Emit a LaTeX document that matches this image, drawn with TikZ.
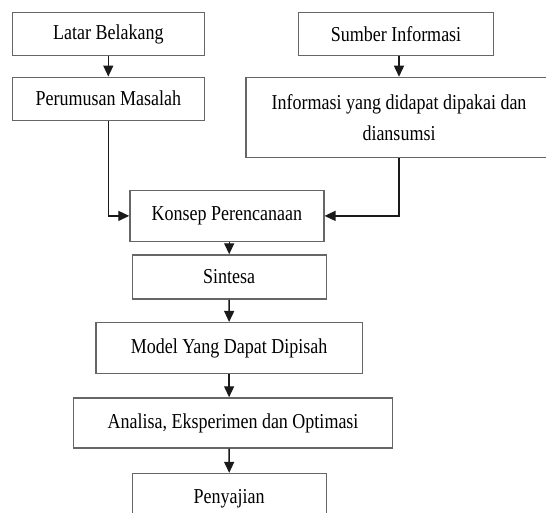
\documentclass[tikz,border=0pt]{standalone}
\usepackage{fontspec}
\setmainfont{Liberation Serif}
\usetikzlibrary{arrows.meta}
\definecolor{boxgray}{HTML}{666666}
\definecolor{linegray}{HTML}{1a1a1a}
\newcommand{\vstretch}[1]{\scalebox{1}[1.18]{#1}}
\begin{document}
\begin{tikzpicture}[x=1pt,y=-1pt,
  box/.style={draw=boxgray, line width=1.3pt, fill=white, inner sep=0pt, align=center,
    font=\fontsize{18}{31}\selectfont},
  conn/.style={draw=linegray, line width=1.4pt, -{Triangle[length=11pt,width=10pt]}}]
\useasboundingbox[fill=white] (0,0) rectangle (546,513);
\node[box, minimum width=192pt, minimum height=43pt] (latar) at (108.3,34.3) {\vstretch{Latar Belakang}};
\node[box, minimum width=192pt, minimum height=43pt] (perumusan) at (108.3,98.7) {\vstretch{Perumusan Masalah}};
\node[box, minimum width=195pt, minimum height=43pt] (sumber) at (396,34.3) {\vstretch{Sumber Informasi}};
\node[box, minimum width=306pt, minimum height=80pt] (info) at (399,117.4) {\vstretch{Informasi yang didapat dipakai dan}\\\vstretch{diansumsi}};
\node[box, minimum width=194pt, minimum height=51pt] (konsep) at (226.9,215.9) {\vstretch{Konsep Perencanaan}};
\node[box, minimum width=194pt, minimum height=44pt] (sintesa) at (229.2,276.9) {\vstretch{Sintesa}};
\node[box, minimum width=266.5pt, minimum height=51pt] (model) at (229.1,348.1) {\vstretch{Model Yang Dapat Dipisah}};
\node[box, minimum width=319pt, minimum height=50pt] (analisa) at (233,422.9) {\vstretch{Analisa, Eksperimen dan Optimasi}};
\node[box, minimum width=194pt, minimum height=51pt] (penyajian) at (229.2,499) {\vstretch{Penyajian}};
\draw[conn] (latar.south) -- (perumusan.north);
\draw[conn] (sumber.south -| info.north) -- (info.north);
\draw[conn] (perumusan.south) |- (konsep.west);
\draw[conn] (info.south) |- (konsep.east);
\draw[conn] (konsep.south -| sintesa.north) -- (sintesa.north);
\draw[conn] (sintesa.south) -- (model.north);
\draw[conn] (model.south) -- (model.south |- analisa.north);
\draw[conn] (model.south |- analisa.south) -- (penyajian.north);
\end{tikzpicture}
\end{document}
